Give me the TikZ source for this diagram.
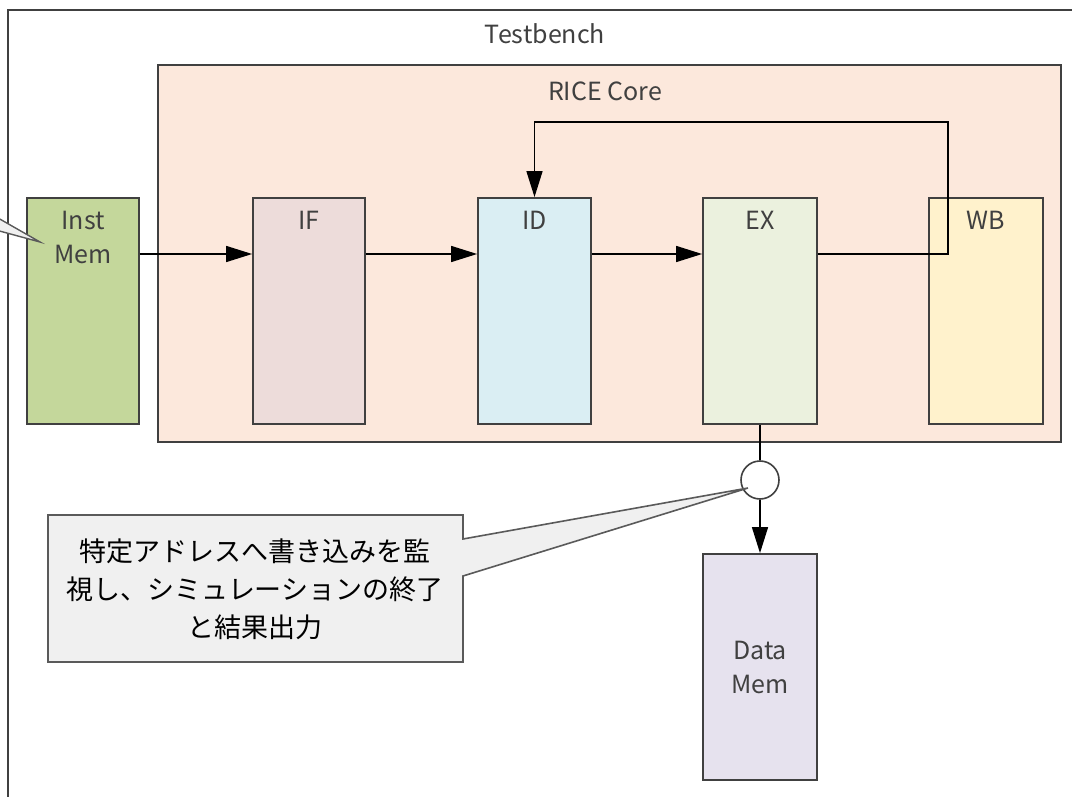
\documentclass[tikz,border=0pt]{standalone}
\usepackage{fontspec}
\setmainfont{Noto Sans CJK JP}
\usetikzlibrary{arrows.meta}
\definecolor{bordc}{HTML}{404040}
\definecolor{txtc}{HTML}{404040}
\definecolor{corefill}{HTML}{FCE8DC}
\definecolor{imfill}{HTML}{C4D79B}
\definecolor{iffill}{HTML}{EDDCDA}
\definecolor{idfill}{HTML}{DAEEF3}
\definecolor{exfill}{HTML}{EBF1DE}
\definecolor{wbfill}{HTML}{FFF2CC}
\definecolor{dmfill}{HTML}{E6E2EE}
\definecolor{callfill}{HTML}{F0F0F0}
\definecolor{callbord}{HTML}{5A5A5A}
\tikzset{
  stagebox/.style={draw=bordc, line width=1.8pt, minimum width=112pt, minimum height=226pt, inner sep=0pt},
  lbl/.style={text=txtc, font=\fontsize{25}{34}\selectfont, align=center, inner sep=0pt},
  conn/.style={draw=black, line width=1.4pt},
  arr/.style={conn, -{Triangle[length=26pt,width=16pt]}},
}
\begin{document}
\begin{tikzpicture}[x=1pt,y=-1pt]
\useasboundingbox (0,0) rectangle (1072,797);
\clip (0,0) rectangle (1072,797);
% testbench
\draw[draw=bordc, line width=1.8pt, fill=white] (8,10) rectangle (1120,850);
\node[lbl] (tbl) at (545,34) {Testbench};
% core
\node[draw=bordc, line width=1.8pt, fill=corefill, minimum width=903pt, minimum height=377pt, inner sep=0pt] (core) at (609.5,253.5) {};
\node[lbl] (corel) at (605,91) {RICE Core};
% stages
\node[stagebox, fill=imfill] (im) at (83,311) {};
\node[stagebox, fill=iffill] (if) at (309,311) {};
\node[stagebox, fill=idfill, minimum width=113pt] (id) at (534.5,311) {};
\node[stagebox, fill=exfill, minimum width=114pt] (ex) at (760,311) {};
\node[stagebox, fill=wbfill, minimum width=114pt] (wb) at (986,311) {};
\node[stagebox, fill=dmfill, minimum width=114pt] (dm) at (760,667) {};
\node[lbl] (iml) at (83,237) {Inst\\Mem};
\node[lbl] (ifl) at (309,220) {IF};
\node[lbl] (idl) at (534.5,220) {ID};
\node[lbl] (exl) at (760,220) {EX};
\node[lbl] (wbl) at (986,220) {WB};
\node[lbl] (dml) at (760,667) {Data\\Mem};
% connectors
\coordinate (fb1) at (948,254);
\coordinate (fb2) at (948,122);
\coordinate (fb3) at (534.5,122);
\draw[arr] (im.east |- 0,254) -- (if.west |- 0,254);
\draw[arr] (if.east |- 0,254) -- (id.west |- 0,254);
\draw[arr] (id.east |- 0,254) -- (ex.west |- 0,254);
\draw[arr] (ex.east |- 0,254) -- (fb1) -- (fb2) -- (fb3) -- (id.north);
% monitor
\node[circle, draw=bordc, line width=1.6pt, fill=white, minimum size=38pt, inner sep=0pt] (mon) at (760,480) {};
\draw[conn] (ex.south) -- (mon.north);
\draw[arr] (mon.south) -- (dm.north);
% callout
\coordinate (tip) at (748,488);
\draw[draw=callbord, line width=1.6pt, fill=callfill, line join=miter]
  (48,515) -- (463,515) -- (463,539) -- (tip) -- (463,576) -- (463,662) -- (48,662) -- cycle;
\node[font=\fontsize{27}{38}\selectfont, align=center, inner sep=0pt] (callt) at (255,589)
  {特定アドレスへ書き込みを監\\視し、シミュレーションの終了\\と結果出力};
% inst mem callout pointer (from outside the picture)
\coordinate (tip2) at (40,242);
\draw[draw=callbord, line width=1.4pt, fill=callfill]
  (-30,202) -- (tip2) -- (-30,223);
\end{tikzpicture}
\end{document}
